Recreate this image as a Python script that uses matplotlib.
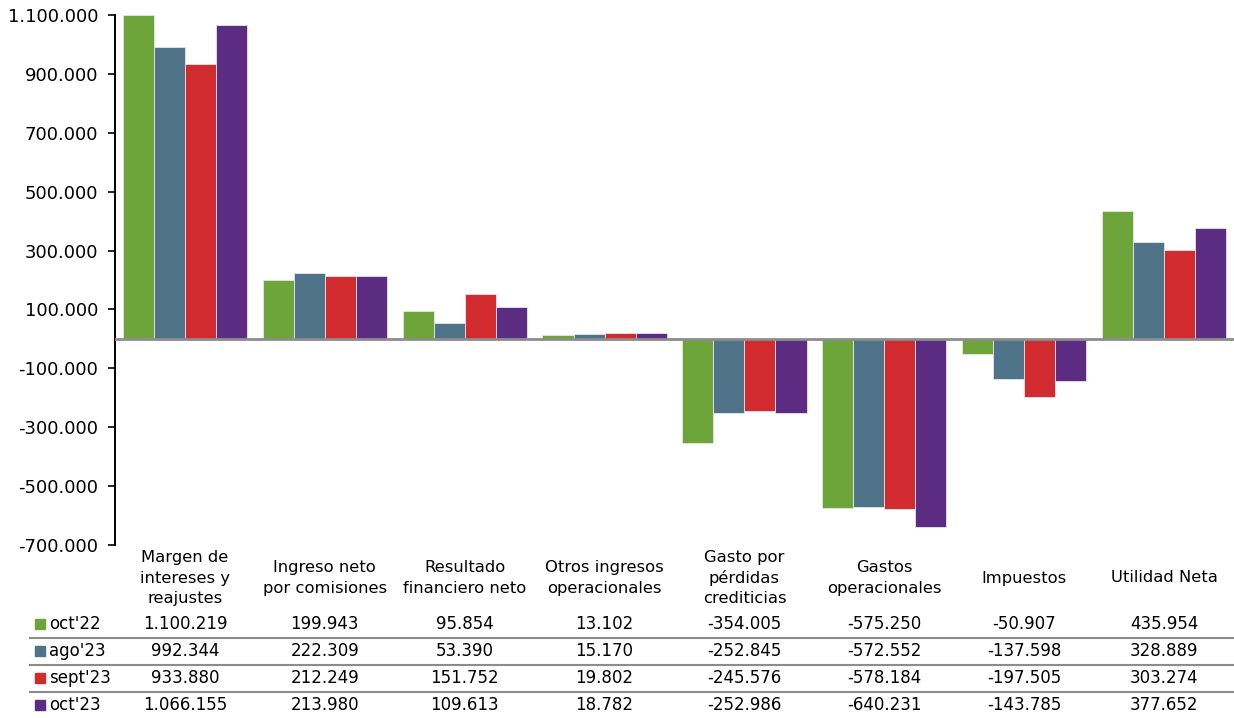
import matplotlib
matplotlib.use("Agg")
import matplotlib.pyplot as plt
from matplotlib.patches import Rectangle
from matplotlib.lines import Line2D
import numpy as np

categories = [
    "Margen de\nintereses y\nreajustes",
    "Ingreso neto\npor comisiones",
    "Resultado\nfinanciero neto",
    "Otros ingresos\noperacionales",
    "Gasto por\npérdidas\ncrediticias",
    "Gastos\noperacionales",
    "Impuestos",
    "Utilidad Neta",
]
series_names = ["oct'22", "ago'23", "sept'23", "oct'23"]
oct22 = [1100219, 199943, 95854, 13102, -354005, -575250, -50907, 435954]
ago23 = [992344, 222309, 53390, 15170, -252845, -572552, -137598, 328889]
sept23 = [933880, 212249, 151752, 19802, -245576, -578184, -197505, 303274]
oct23 = [1066155, 213980, 109613, 18782, -252986, -640231, -143785, 377652]
series = [oct22, ago23, sept23, oct23]
colors = ["#6EA53A", "#4F7389", "#D22B2F", "#5B2C81"]

yticks = [1100000, 900000, 700000, 500000, 300000, 100000, -100000, -300000, -500000, -700000]


def fmt_num(v):
    s = f"{abs(int(v)):,}".replace(",", ".")
    return ("-" if v < 0 else "") + s


W, H = 1234, 718
fig = plt.figure(figsize=(W / 100, H / 100), dpi=100)
ax = fig.add_axes([115 / W, 1 - 545 / H, 1 - 115 / W, (545 - 15) / H])

n = len(categories)
x = np.arange(n)
bw = 0.222
offsets = (np.arange(len(series)) - 1.5) * bw
for vals, off, col in zip(series, offsets, colors):
    ax.bar(x + off, vals, width=bw, color=col, edgecolor="#e6e6e6", linewidth=0.6, zorder=2)

ax.axhline(0, color="#8c8c8c", linewidth=2, zorder=3)

ax.set_xlim(-0.5, n - 0.5)
ax.set_ylim(-700000, 1100000)
ax.set_yticks(yticks)
ax.set_yticklabels([fmt_num(v) for v in yticks], fontsize=13)
ax.tick_params(axis="y", direction="out", length=5, width=1.2, pad=7)
ax.set_xticks([])
for s in ["top", "right", "bottom"]:
    ax.spines[s].set_visible(False)
ax.spines["left"].set_linewidth(1.4)

# Category labels and data table beneath the plot
fig_y = lambda py: 1 - py / H


def text_at(xd, py, s, **kw):
    xfig = fig.transFigure.inverted().transform(ax.transData.transform((xd, 0)))[0]
    fig.text(xfig, fig_y(py), s, **kw)


for i, cat in enumerate(categories):
    text_at(i, 578, cat, ha="center", va="center", fontsize=11.8, linespacing=1.42)

row_y = [624, 651, 678, 705]
for r, (name, vals, col) in enumerate(zip(series_names, series, colors)):
    py = row_y[r]
    fig.patches.append(Rectangle((35 / W, fig_y(py + 5)), 10 / W, 10 / H,
                                 transform=fig.transFigure, color=col))
    fig.text(49 / W, fig_y(py), name, ha="left", va="center", fontsize=12)
    for i, v in enumerate(vals):
        text_at(i, py, fmt_num(v), ha="center", va="center", fontsize=12)

for ly in [637.5, 664.5, 691.5]:
    fig.lines.append(Line2D([30 / W, 1.0], [fig_y(ly), fig_y(ly)],
                            transform=fig.transFigure, color="#8c8c8c", linewidth=1.5))

fig.savefig("out.png", dpi=100)
